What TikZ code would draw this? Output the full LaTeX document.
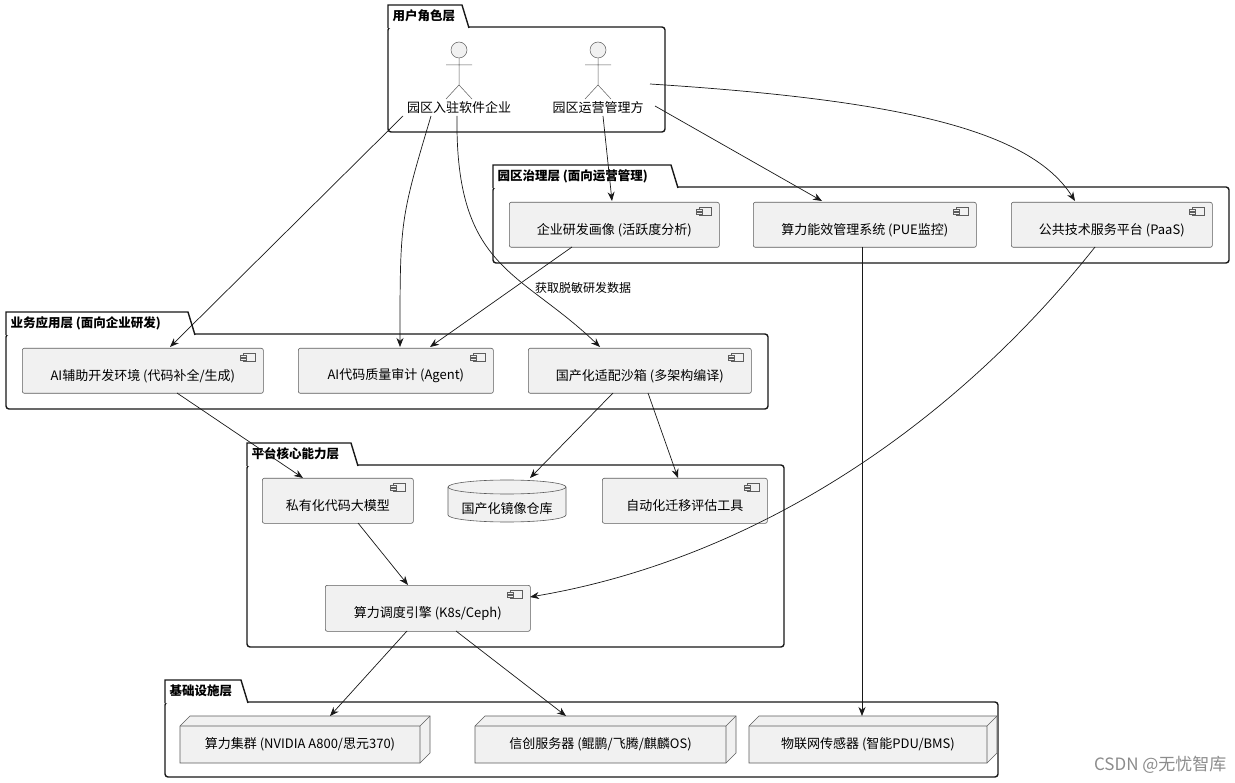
\documentclass[tikz,border=0pt]{standalone}
\usepackage{fontspec}
\setmainfont{Noto Sans CJK SC}
\usetikzlibrary{arrows.meta,shapes.geometric,calc}
\definecolor{bx}{HTML}{F1F1F1}
\definecolor{ln}{HTML}{181818}
\tikzset{
  every node/.style={font=\fontsize{13}{15}\selectfont, text=black},
  comp/.style={draw=ln!70, fill=bx, rounded corners=2pt, line width=0.6pt, inner sep=0pt},
  frm/.style={draw=ln, line width=1.4pt, rounded corners=3pt},
  arr/.style={draw=ln, line width=0.7pt, -{Stealth[length=9pt,width=7pt]}},
}
\newcommand{\pkg}[5]{% x0 y0 x1 y1
  \draw[frm] (#1,#2+22) rectangle (#3,#4);
}
\newcommand{\tabb}[4]{% x0 y0 width label
  \draw[draw=ln, line width=1.4pt, fill=white] (#1,#2+23) -- (#1,#2) -- (#1+#3,#2) -- (#1+#3+7,#2+23);
  \node[anchor=west, font=\bfseries\fontsize{12.5}{14}\selectfont] at (#1+1,#2+11) {#4};
}
\newcommand{\comp}[6]{% name x0 y0 x1 y1 label
  \node[comp, minimum width=#4-#2, minimum height=#5-#3, anchor=north west] (#1) at (#2,#3) {};
  \node at ($(#1)+(0,5)$) {#6};
  \draw[ln!70, fill=bx, line width=0.5pt] ($(#1.north east)+(-20,5)$) rectangle ($(#1.north east)+(-8,13)$);
  \draw[ln!70, fill=bx, line width=0.5pt] ($(#1.north east)+(-23,7)$) rectangle ($(#1.north east)+(-17,9)$);
  \draw[ln!70, fill=bx, line width=0.5pt] ($(#1.north east)+(-23,10)$) rectangle ($(#1.north east)+(-17,12)$);
}
\newcommand{\nd}[6]{% name x0 y0 x1 y1 label
  \draw[ln!70, fill=bx, line width=0.6pt] (#2,#3+10) -- (#2+10,#3) -- (#4,#3) -- (#4,#5-10) -- (#4-10,#5) -- (#2,#5) -- cycle;
  \draw[ln!70, line width=0.6pt] (#2,#3+10) -- (#4-10,#3+10) -- (#4,#3) (#4-10,#3+10) -- (#4-10,#5);
  \coordinate (#1) at ({(#2+#4-10)/2},{(#3+#5+10)/2});
  \node at (#1) {#6};
}
\begin{document}
\begin{tikzpicture}[x=1pt,y=-1pt]
\useasboundingbox (0,0) rectangle (1235,783);
\fill[white] (0,0) rectangle (1235,783);
% packages
\pkg{388}{5}{665}{132}{}
\tabb{388}{5}{74}{用户角色层}
\pkg{493}{165}{1229}{263}{}
\tabb{493}{165}{178}{园区治理层 (面向运营管理)}
\pkg{6}{312}{768}{409}{}
\tabb{6}{312}{182}{业务应用层 (面向企业研发)}
\pkg{247}{443}{784}{647}{}
\tabb{247}{443}{104}{平台核心能力层}
\pkg{165}{680}{998}{777}{}
\tabb{165}{680}{76}{基础设施层}
% actors
\foreach \n/\x/\t in {ent/459/园区入驻软件企业, mgr/598/园区运营管理方}{
  \draw[ln!70, fill=bx, line width=0.5pt] (\x,50) circle (8);
  \draw[ln!70, line width=0.5pt] (\x,58) -- (\x,85) (\x-13,65) -- (\x+13,65) (\x-13,99) -- (\x,85) -- (\x+13,99);
  \node (\n) at (\x,108) {\t};
}
% components
\comp{prof}{509}{202}{719}{247}{企业研发画像 (活跃度分析)}
\comp{pue}{753}{202}{976}{247}{算力能效管理系统 (PUE监控)}
\comp{paas}{1011}{202}{1212}{247}{公共技术服务平台 (PaaS)}
\comp{ide}{22}{348}{263}{393}{AI辅助开发环境 (代码补全/生成)}
\comp{audit}{298}{348}{493}{393}{AI代码质量审计 (Agent)}
\comp{sand}{528}{348}{751}{393}{国产化适配沙箱 (多架构编译)}
\comp{llm}{262}{478}{413}{523}{私有化代码大模型}
\comp{mig}{602}{478}{767}{523}{自动化迁移评估工具}
\comp{sched}{325}{585}{530}{631}{算力调度引擎 (K8s/Ceph)}
% database
\draw[ln!70, fill=bx, line width=0.6pt] (448,487) -- (448,515) arc[start angle=180,end angle=0,x radius=59,y radius=7] -- (566,487) arc[start angle=0,end angle=-180,x radius=59,y radius=7] -- cycle;
\draw[ln!70, line width=0.6pt] (448,487) arc[start angle=180,end angle=0,x radius=59,y radius=7];
\coordinate (repo) at (507,480);
\node at (507,509) {国产化镜像仓库};
% nodes
\nd{gpu}{180}{716}{430}{763}{算力集群 (NVIDIA A800/思元370)}
\nd{srv}{475}{716}{736}{763}{信创服务器 (鲲鹏/飞腾/麒麟OS)}
\nd{iot}{749}{716}{997}{763}{物联网传感器 (智能PDU/BMS)}
% arrows
\draw[arr] (403,116) -- (170,347);
\draw[arr] (431,116) .. controls (400,220) .. (400,347);
\draw[arr] (457,116) .. controls (455,270) and (520,270) .. (600,347);
\draw[arr] (603,116) -- (612,201);
\draw[arr] (655,106) -- (822,201);
\draw[arr] (650,84) .. controls (900,100) and (1030,130) .. (1075,201);
\draw[arr] (572,247) -- (430,347);
\node[font=\fontsize{12}{14}\selectfont] at (583,288) {获取脱敏研发数据};
\draw[arr] (177,393) -- (303,478);
\draw[arr] (613,393) -- (530,478);
\draw[arr] (648,393) -- (678,478);
\draw[arr] (358,523) -- (408,585);
\draw[arr] (1095,247) .. controls (950,430) and (750,560) .. (530,597);
\draw[arr] (862,247) -- (862,716);
\draw[arr] (407,631) -- (330,716);
\draw[arr] (456,631) -- (566,716);
\node[text=black!45, font=\fontsize{17}{19}\selectfont, anchor=east] at (1230,765) {CSDN @无忧智库};
\end{tikzpicture}
\end{document}
